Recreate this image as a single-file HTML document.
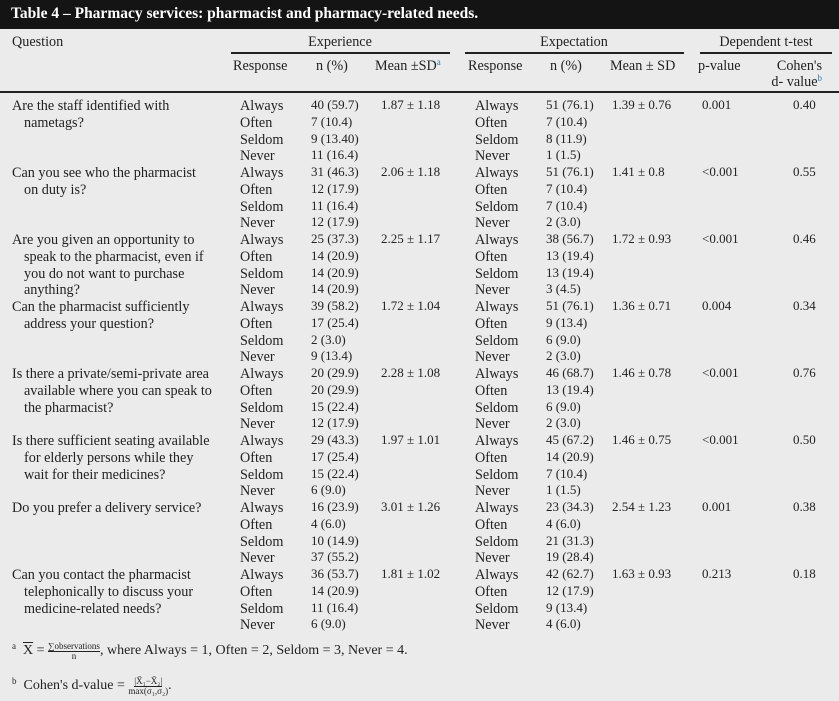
<!DOCTYPE html>
<html><head><meta charset="utf-8">
<style>
body{margin:0;width:839px;height:701px;background:#ebebeb;font-family:"Liberation Serif",serif;font-size:14.2px;color:#222;position:relative;overflow:hidden}
.t{position:absolute;white-space:nowrap;line-height:16px}
.num{font-size:13px}
.c{transform:translateX(-50%)}
#bar{position:absolute;left:0;top:0;width:839px;height:29px;background:#141414}
#bar span{position:absolute;left:11px;top:5px;color:#fff;font-weight:bold;font-size:15.5px;font-family:"Liberation Serif",serif}
.hl{position:absolute;height:2px;background:#222}
sup{color:#2a7ab8;font-size:9px;line-height:0;vertical-align:5px}
.fn{font-size:14px}
.small{font-size:9px}
</style></head><body>
<div id="bar"><span>Table 4 – Pharmacy services: pharmacist and pharmacy-related needs.</span></div>
<div class="t" style="left:12px;top:34px">Question</div>
<div class="t c" style="left:340px;top:34px">Experience</div>
<div class="t c" style="left:574px;top:34px">Expectation</div>
<div class="t c" style="left:766px;top:34px">Dependent t-test</div>
<div class="hl" style="left:231px;top:52px;width:219px"></div>
<div class="hl" style="left:465px;top:52px;width:219px"></div>
<div class="hl" style="left:700px;top:52px;width:132px"></div>
<div class="t" style="left:233px;top:58px">Response</div>
<div class="t" style="left:316px;top:58px">n (%)</div>
<div class="t" style="left:375px;top:58px">Mean ±SD<sup>a</sup></div>
<div class="t" style="left:468px;top:58px">Response</div>
<div class="t" style="left:550px;top:58px">n (%)</div>
<div class="t" style="left:610px;top:58px">Mean ± SD</div>
<div class="t" style="left:698px;top:58px">p-value</div>
<div class="t" style="left:752px;top:58px;text-align:right;width:70px;line-height:16px">Cohen's<br>d- value<sup>b</sup></div>
<div class="hl" style="left:0;top:91px;width:839px"></div>
<div id="rows"></div>
<div class="t fn" style="left:12px;top:641px"><sup style="color:#222">a</sup>&nbsp; <span style="text-decoration:overline">X</span> = <span style="display:inline-block;vertical-align:middle;text-align:center;line-height:9px"><span class="small" style="border-bottom:1px solid #222">∑observations</span><br><span class="small">n</span></span>, where Always = 1, Often = 2, Seldom = 3, Never = 4.</div>
<div class="t fn" style="left:12px;top:676px"><sup style="color:#222">b</sup>&nbsp; Cohen's d-value = <span style="display:inline-block;vertical-align:middle;text-align:center;line-height:9px"><span class="small" style="border-bottom:1px solid #222">|X̄₁−X̄₂|</span><br><span class="small">max(σ₁,σ₂)</span></span>.</div>
<script>
const questions=[["Are the staff identified with","nametags?"],["Can you see who the pharmacist","on duty is?"],["Are you given an opportunity to","speak to the pharmacist, even if","you do not want to purchase","anything?"],["Can the pharmacist sufficiently","address your question?"],["Is there a private/semi-private area","available where you can speak to","the pharmacist?"],["Is there sufficient seating available","for elderly persons while they","wait for their medicines?"],["Do you prefer a delivery service?"],["Can you contact the pharmacist","telephonically to discuss your","medicine-related needs?"]];
const responses=["Always","Often","Seldom","Never"];
const expN=[["40 (59.7)","7 (10.4)","9 (13.40)","11 (16.4)"],["31 (46.3)","12 (17.9)","11 (16.4)","12 (17.9)"],["25 (37.3)","14 (20.9)","14 (20.9)","14 (20.9)"],["39 (58.2)","17 (25.4)","2 (3.0)","9 (13.4)"],["20 (29.9)","20 (29.9)","15 (22.4)","12 (17.9)"],["29 (43.3)","17 (25.4)","15 (22.4)","6 (9.0)"],["16 (23.9)","4 (6.0)","10 (14.9)","37 (55.2)"],["36 (53.7)","14 (20.9)","11 (16.4)","6 (9.0)"]];
const expMean=["1.87 ± 1.18","2.06 ± 1.18","2.25 ± 1.17","1.72 ± 1.04","2.28 ± 1.08","1.97 ± 1.01","3.01 ± 1.26","1.81 ± 1.02"];
const exptN=[["51 (76.1)","7 (10.4)","8 (11.9)","1 (1.5)"],["51 (76.1)","7 (10.4)","7 (10.4)","2 (3.0)"],["38 (56.7)","13 (19.4)","13 (19.4)","3 (4.5)"],["51 (76.1)","9 (13.4)","6 (9.0)","2 (3.0)"],["46 (68.7)","13 (19.4)","6 (9.0)","2 (3.0)"],["45 (67.2)","14 (20.9)","7 (10.4)","1 (1.5)"],["23 (34.3)","4 (6.0)","21 (31.3)","19 (28.4)"],["42 (62.7)","12 (17.9)","9 (13.4)","4 (6.0)"]];
const exptMean=["1.39 ± 0.76","1.41 ± 0.8","1.72 ± 0.93","1.36 ± 0.71","1.46 ± 0.78","1.46 ± 0.75","2.54 ± 1.23","1.63 ± 0.93"];
const pValues=["0.001","<0.001","<0.001","0.004","<0.001","<0.001","0.001","0.213"];
const cohens=["0.40","0.55","0.46","0.34","0.76","0.50","0.38","0.18"];
const root=document.getElementById('rows');
const LH=16.75, Y0=98;
function add(txt,x,y,name,num){
  const d=document.createElement('div');
  d.className=num?'t num':'t';d.style.left=x+'px';d.style.top=y+'px';d.textContent=txt;
  
  
  root.appendChild(d);
}
questions.forEach((q,i)=>{
  const y=Y0+i*4*LH;
  q.forEach((line,j)=>add(line,j?24:12,y+j*LH,'question-text'));
  responses.forEach((r,k)=>{
    add(r,240,y+k*LH,'experience-response');
    add(expN[i][k],311,y+k*LH-1,'experience-n',true);
    add(r,475,y+k*LH,'expectation-response');
    add(exptN[i][k],546,y+k*LH-1,'expectation-n',true);
  });
  add(expMean[i],381,y-1,'experience-mean',true);
  add(exptMean[i],612,y-1,'expectation-mean',true);
  add(pValues[i],702,y-1,'p-value',true);
  add(cohens[i],793,y-1,'cohens-d',true);
});
</script>
</body></html>
